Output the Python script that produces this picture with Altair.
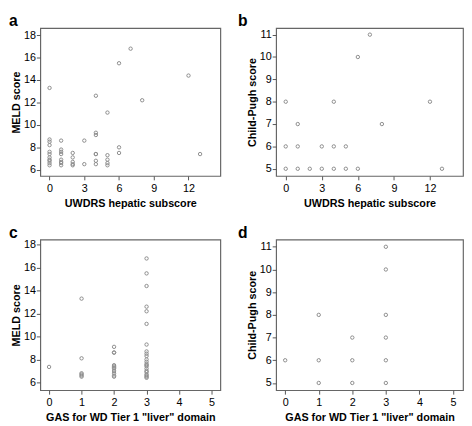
import altair as alt
import pandas as pd

# Panel a: UWDRS hepatic subscore vs MELD
a_uwdrs = [0]*11 + [1]*8 + [2]*5 + [3]*2 + [4]*7 + [5]*5 + [6]*3 + [7, 8, 12, 13]
a_meld = [13.3, 8.7, 8.5, 8.2, 7.6, 7.4, 7.1, 6.9, 6.8, 6.6, 6.4,
          8.6, 7.8, 7.6, 7.4, 6.9, 6.7, 6.6, 6.4,
          7.5, 7.1, 6.7, 6.5, 6.4,
          8.6, 6.5,
          12.6, 9.3, 9.1, 7.4, 7.4, 6.8, 6.5,
          11.1, 7.3, 6.9, 6.6, 6.4,
          15.5, 8.0, 7.5,
          16.8, 12.2, 14.4, 7.4]

# Panel b: UWDRS hepatic subscore vs Child-Pugh
b_uwdrs = [0, 0, 0, 1, 1, 1, 2, 3, 3, 4, 4, 4, 5, 5, 6, 6, 7, 8, 12, 13]
b_cp = [8, 6, 5, 7, 6, 5, 5, 6, 5, 8, 6, 5, 6, 5, 10, 5, 11, 7, 8, 5]

# Panel c: GAS liver domain vs MELD
c_gas = [0] + [1]*6 + [2]*11 + [3]*22
c_meld = [7.35,
          13.3, 8.1, 6.8, 6.7, 6.6, 6.5,
          9.1, 8.6, 8.6, 7.5, 7.4, 7.3, 7.2, 7.0, 6.8, 6.6, 6.5,
          16.8, 15.5, 14.4, 12.6, 12.2, 11.1, 9.3, 8.7, 8.5, 8.3, 8.0, 7.8,
          7.6, 7.5, 7.4, 7.2, 7.0, 6.9, 6.7, 6.6, 6.5, 6.4]

# Panel d: GAS liver domain vs Child-Pugh
d_gas = [0, 1, 1, 1, 2, 2, 2, 3, 3, 3, 3, 3, 3]
d_cp = [6, 8, 6, 5, 7, 6, 5, 11, 10, 8, 7, 6, 5]

uw_ticks = [0, 3, 6, 9, 12]
gas_ticks = [0, 1, 2, 3, 4, 5]
meld_ticks = [6, 8, 10, 12, 14, 16, 18]
cp_ticks = [5, 6, 7, 8, 9, 10, 11]
letters = ["a", "b", "c", "d"]

FONT = "Liberation Sans"


def panel(xs, ys, xdom, ydom, xticks, yticks, xtitle, ytitle, letter, w, h, lx):
    df = pd.DataFrame({"x": xs, "y": ys})
    pts = alt.Chart(df).mark_point(
        shape="circle", filled=False, size=12, color="#8c8c8c",
        strokeWidth=1, opacity=1
    ).encode(
        x=alt.X("x:Q", scale=alt.Scale(domain=xdom, nice=False, zero=False),
                axis=alt.Axis(values=xticks, title=xtitle, grid=False,
                              format="d", labelPadding=3, titlePadding=4)),
        y=alt.Y("y:Q", scale=alt.Scale(domain=ydom, nice=False, zero=False),
                axis=alt.Axis(values=yticks, title=ytitle, grid=False,
                              format="d", labelPadding=1, titlePadding=2)),
    )
    lab = alt.Chart(pd.DataFrame({"t": [letter]})).mark_text(
        font=FONT, fontSize=16, fontWeight="bold", color="black",
        align="left", baseline="alphabetic", clip=False
    ).encode(text="t:N", x=alt.value(lx), y=alt.value(-2))
    return alt.layer(pts, lab).properties(width=w, height=h)


pa = panel(a_uwdrs, a_meld, [-0.8, 14.75], [5.45, 18.63], uw_ticks, meld_ticks,
           "UWDRS hepatic subscore", "MELD score", letters[0], 184, 151, -32)
pb = panel(b_uwdrs, b_cp, [-0.8, 14.75], [4.68, 11.29], uw_ticks, cp_ticks,
           "UWDRS hepatic subscore", "Child-Pugh score", letters[1], 191, 151, -39)
pc = panel(c_gas, c_meld, [-0.27, 5.27], [5.32, 18.45], gas_ticks, meld_ticks,
           'GAS for WD Tier 1 "liver" domain', "MELD score", letters[2], 184, 154, -32)
pd_ = panel(d_gas, d_cp, [-0.27, 5.3], [4.68, 11.32], gas_ticks, cp_ticks,
            'GAS for WD Tier 1 "liver" domain', "Child-Pugh score", letters[3], 191, 154, -39)

chart = alt.vconcat(
    alt.hconcat(pa, pb, spacing=16),
    alt.hconcat(pc, pd_, spacing=16),
    spacing=15,
).properties(padding=0).configure_axis(
    labelFont=FONT, labelFontSize=11, labelColor="black",
    titleFont=FONT, titleFontSize=11, titleFontWeight="bold", titleColor="black",
    tickColor="#555555", tickSize=4, domain=False
).configure_view(stroke="#666666", strokeWidth=1.2)

chart.save("out.html", embed_options={"renderer": "svg", "actions": False})
